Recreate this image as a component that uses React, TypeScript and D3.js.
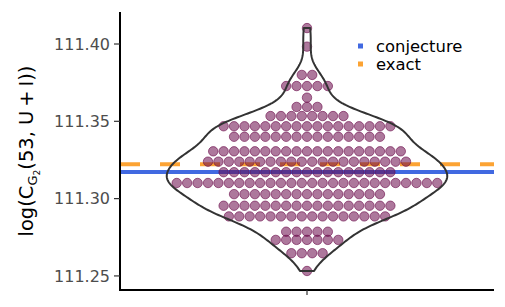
import React from 'react';
import * as d3 from 'd3';

// dotplot rows: bin centre (log value) and number of dots in the row
const rowValues = [
  111.4103, 111.3983, 111.3800, 111.3728, 111.3653, 111.3593, 111.3534, 111.3468,
  111.3400, 111.3306, 111.3239, 111.3171, 111.3101, 111.3029, 111.2954, 111.2885,
  111.2786, 111.2733, 111.2647, 111.2532,
];
const rowCounts = [1, 1, 2, 5, 1, 3, 8, 17, 15, 19, 20, 17, 26, 15, 17, 16, 5, 7, 4, 1];

const conjectureValue = 111.3172;
const exactValue = 111.3222;

const yTicks = [111.25, 111.3, 111.35, 111.4];
const legendLabels = ['conjecture', 'exact'];
const legendColors = ['#4169E1', '#FCA333'];

const W = 505;
const H = 307;
const margin = { top: 12, right: 11, bottom: 17, left: 120 };
const binwidth = 0.00674;
const dotColor = '#6A0A4A';
const font = 'DejaVu Sans, sans-serif';

function nrd0(v: number[]) {
  const sd = d3.deviation(v) as number;
  const sorted = v.slice().sort(d3.ascending);
  const iqr = (d3.quantile(sorted, 0.75) as number) - (d3.quantile(sorted, 0.25) as number);
  return 0.9 * Math.min(sd, iqr / 1.34) * Math.pow(v.length, -0.2);
}

export default function App() {
  const y = d3.scaleLinear().domain([111.2409, 111.4207]).range([H - margin.bottom, margin.top]);
  // discrete x scale with one category, expanded by 0.6 like ggplot
  const x = d3.scaleLinear().domain([0.4, 1.6]).range([margin.left, W - margin.right]);

  // raw values reconstructed from the dot rows
  const values: number[] = [];
  rowValues.forEach((v, i) => {
    for (let k = 0; k < rowCounts[i]; k++) values.push(v);
  });

  // violin: gaussian kde, trimmed to data range
  const bw = nrd0(values);
  const lo = d3.min(values) as number;
  const hi = d3.max(values) as number;
  const grid = d3.range(0, 257).map(i => lo + (hi - lo) * i / 256);
  const dens = grid.map(g => ({
    v: g,
    d: d3.sum(values, s => Math.exp(-0.5 * ((g - s) / bw) ** 2)),
  }));
  const maxD = d3.max(dens, d => d.d) as number;
  const w = d3.scaleLinear().domain([0, maxD]).range([0, 0.45]);
  const outline = [
    ...dens.map(d => [x(1 - w(d.d)), y(d.v)] as [number, number]),
    ...dens.slice().reverse().map(d => [x(1 + w(d.d)), y(d.v)] as [number, number]),
  ];
  const violinPath = d3.line().curve(d3.curveLinearClosed)(outline) as string;

  // dots
  const dia = y(111.3) - y(111.3 + binwidth);
  const dots: { cx: number; cy: number }[] = [];
  rowValues.forEach((v, i) => {
    const n = rowCounts[i];
    for (let k = 0; k < n; k++) {
      dots.push({ cx: x(1) + (k - (n - 1) / 2) * dia, cy: y(v) });
    }
  });

  const x0 = margin.left;
  const x1 = W - margin.right;
  const yBottom = H - margin.bottom;

  return (
    <svg width={W} height={H} style={{ position: 'absolute', left: 0, top: 0, background: '#fff' }}>
      {/* reference lines */}
      <line x1={x0} x2={x1} y1={y(conjectureValue)} y2={y(conjectureValue)} stroke={legendColors[0]} strokeWidth={4} />
      <line x1={x0} x2={x1} y1={y(exactValue)} y2={y(exactValue)} stroke={legendColors[1]} strokeWidth={4} strokeDasharray="20 20" />

      {/* dotplot */}
      {dots.map((d, i) => (
        <circle key={i} cx={d.cx} cy={d.cy} r={dia / 2 - 0.5} fill={dotColor} fillOpacity={0.55}
          stroke={dotColor} strokeOpacity={0.6} strokeWidth={1} />
      ))}

      {/* violin */}
      <path d={violinPath} fill="none" stroke="#333333" strokeWidth={2} strokeLinejoin="round" />

      {/* axes */}
      <line x1={x0} x2={x0} y1={margin.top} y2={yBottom} stroke="#000" strokeWidth={2} />
      <line x1={x0 - 1} x2={x1} y1={yBottom} y2={yBottom} stroke="#000" strokeWidth={2} />
      <line x1={x(1)} x2={x(1)} y1={yBottom} y2={yBottom + 5} stroke="#333" strokeWidth={1.2} />
      {yTicks.map(t => (
        <g key={t}>
          <line x1={x0 - 6} x2={x0} y1={y(t)} y2={y(t)} stroke="#333" strokeWidth={1.2} />
          <text x={x0 - 10} y={y(t)} dy="0.36em" textAnchor="end" fontSize={16} fontFamily={font} fill="#4D4D4D">
            {t.toFixed(2)}
          </text>
        </g>
      ))}

      {/* y title */}
      <text transform={`translate(33,${(margin.top + yBottom) / 2}) rotate(-90)`} textAnchor="middle"
        fontSize={19.5} fontFamily={font} fill="#000">
        <tspan>log(C</tspan>
        <tspan fontSize={13} dy={4}>G</tspan>
        <tspan fontSize={9} dy={3}>2</tspan>
        <tspan fontSize={19.5} dy={-7}>(53, U{'\u2009'}+{'\u2009'}I))</tspan>
      </text>

      {/* legend */}
      {legendLabels.map((l, i) => (
        <g key={l} transform={`translate(358,${46 + i * 18})`}>
          <rect x={0} y={-2.5} width={5} height={5} fill={legendColors[i]} />
          <text x={18} y={0} dy="0.35em" fontSize={16.4} fontFamily={font} fill="#000">{l}</text>
        </g>
      ))}
    </svg>
  );
}
